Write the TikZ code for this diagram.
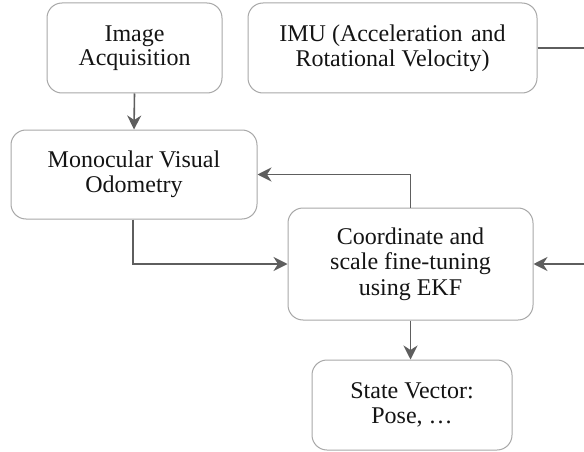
\documentclass[tikz,border=0pt]{standalone}
\usepackage{fontspec}
\setmainfont{Liberation Serif}
\usetikzlibrary{arrows.meta}
\definecolor{boxline}{HTML}{A8A8A8}
\definecolor{arrowc}{HTML}{5E5E5E}
\definecolor{txt}{HTML}{141414}
\begin{document}
\begin{tikzpicture}[x=1pt,y=-1pt,
  blk/.style={draw=boxline, line width=1pt, rounded corners=15pt, fill=white,
    text=txt, align=center, inner sep=0pt,
    font=\fontsize{24}{25.3}\selectfont},
  conn/.style={draw=arrowc, line width=1.6pt,
    -{Stealth[length=14pt,width=14pt,inset=4.5pt]}}]
\clip (0,0) rectangle (584,452);
\fill[white] (0,0) rectangle (584,452);
\node[blk, minimum width=175pt, minimum height=90pt] (img) at (134.5,48) {\raisebox{2pt}{\shortstack{Image\\Acquisition}}};
\node[blk, minimum width=289pt, minimum height=90pt] (imu) at (392.5,48) {IMU (Acceleration\hspace{0.35em}and\\Rotational Velocity)};
\node[blk, minimum width=246pt, minimum height=89pt] (mono) at (134,174.5) {Monocular Visual\\Odometry};
\node[blk, minimum width=245pt, minimum height=112pt] (ekf) at (410.5,264) {Coordinate and\\scale fine-tuning\\using EKF};
\node[blk, minimum width=200pt, minimum height=90pt] (state) at (412,405) {State Vector:\\Pose, \dots};
\coordinate (r1) at (600,48);
\coordinate (r2) at (600,264);
\draw[conn] (img.south) -- (mono.north);
\draw[conn] (ekf.north) |- (mono.east);
\draw[conn] ([xshift=-1pt]mono.south) |- (ekf.west);
\draw[conn] (ekf.south) -- (ekf.south |- state.north);
\draw[conn] (imu.east) -- (r1) -- (r2) -- (ekf.east);
\end{tikzpicture}
\end{document}
